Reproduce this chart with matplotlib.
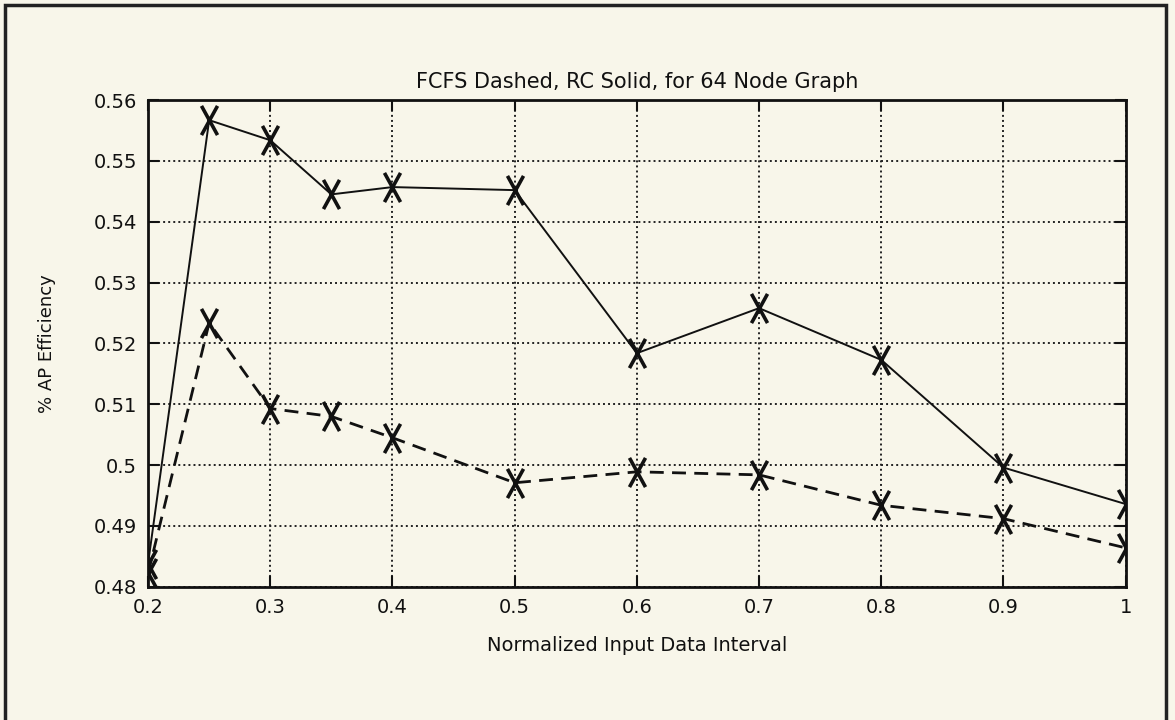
import matplotlib
matplotlib.use("Agg")
import matplotlib.pyplot as plt
from matplotlib.patches import Rectangle
from matplotlib.path import Path

# ==========================================
# DATA
# ==========================================

interval = [0.2, 0.25, 0.3, 0.35, 0.4, 0.5, 0.6, 0.7, 0.8, 0.9, 1.0]

rc_eff = [0.4838, 0.5567, 0.5534, 0.5445, 0.5457, 0.5452,
          0.5184, 0.5258, 0.5173, 0.4996, 0.4936]

fcfs_eff = [0.4822, 0.5234, 0.5093, 0.5080, 0.5045, 0.4971,
            0.4989, 0.4984, 0.4934, 0.4912, 0.4864]

x_ticks = [0.2, 0.3, 0.4, 0.5, 0.6, 0.7, 0.8, 0.9, 1.0]
x_tick_labels = ["0.2", "0.3", "0.4", "0.5", "0.6", "0.7", "0.8", "0.9", "1"]
y_ticks = [0.48, 0.49, 0.5, 0.51, 0.52, 0.53, 0.54, 0.55, 0.56]
y_tick_labels = ["0.48", "0.49", "0.5", "0.51", "0.52", "0.53", "0.54", "0.55", "0.56"]

# ==========================================
# PLOT
# ==========================================

bg = "#f8f6ea"
ink = "#111111"

# tall "X" marker like the old plotter output
tall_x = Path(
    [(-0.55, -1), (0.55, 1), (-0.55, 1), (0.55, -1)],
    [Path.MOVETO, Path.LINETO, Path.MOVETO, Path.LINETO]
)

fig = plt.figure(figsize=(11.75, 7.2), dpi=100, facecolor=bg)
ax = fig.add_axes([0.126, 0.185, 0.832, 0.676])
ax.set_facecolor(bg)

# outer frame of the scanned page
fig.patches.append(Rectangle(
    (0.004, -0.05), 0.988, 1.043,
    transform=fig.transFigure, fill=False,
    edgecolor="#222222", linewidth=2.5
))

ax.plot(interval, rc_eff, color=ink, linewidth=1.4,
        marker=tall_x, markersize=21, markeredgewidth=2.6)
ax.plot(interval, fcfs_eff, color=ink, linewidth=2.0,
        linestyle=(0, (5, 3)),
        marker=tall_x, markersize=21, markeredgewidth=2.6)

ax.set_xlim(0.2, 1.0)
ax.set_ylim(0.48, 0.56)
ax.set_xticks(x_ticks)
ax.set_xticklabels(x_tick_labels)
ax.set_yticks(y_ticks)
ax.set_yticklabels(y_tick_labels)

ax.grid(True, color="#222222", linestyle=(0, (1, 1.6)), linewidth=1.4)

ax.tick_params(direction="in", length=8, width=1.5,
               top=True, right=True, labelsize=14,
               colors=ink, pad=8)

for sp in ax.spines.values():
    sp.set_linewidth(2)
    sp.set_color(ink)

ax.set_title("FCFS Dashed, RC Solid, for 64 Node Graph",
             fontsize=15, color=ink, pad=9)
ax.set_xlabel("Normalized Input Data Interval",
              fontsize=14, color=ink, labelpad=14)
ax.set_ylabel("% AP Efficiency", fontsize=13, color=ink)
ax.yaxis.set_label_coords(-0.094, 0.5)

fig.savefig("out.png", dpi=100, facecolor=bg)
